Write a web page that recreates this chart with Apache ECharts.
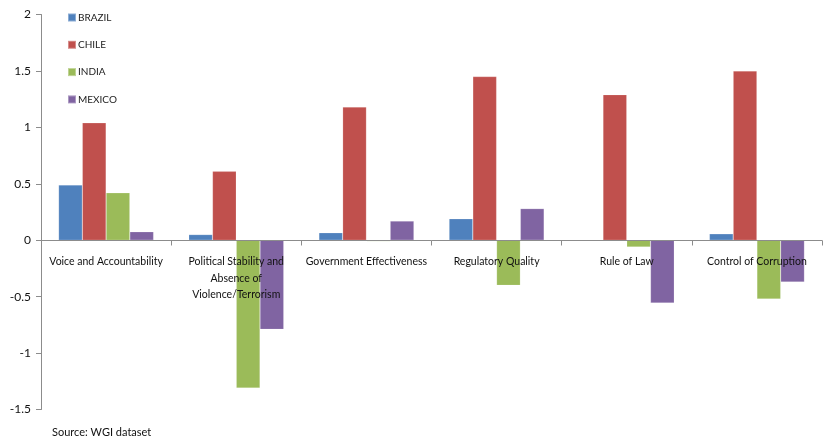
<!DOCTYPE html>
<html>
<head>
<meta charset="utf-8">
<script src="https://cdn.jsdelivr.net/npm/echarts@6/dist/echarts.min.js"></script>
<style>
html,body{margin:0;padding:0;background:#fff;}
#c{width:825px;height:442px;}
</style>
</head>
<body>
<div id="c"></div>
<script>
var categories = ["Voice and Accountability", "Political Stability and\nAbsence of\nViolence/Terrorism", "Government Effectiveness", "Regulatory Quality", "Rule of Law", "Control of Corruption"];
var brazil = [0.49, 0.05, 0.066, 0.19, 0.003, 0.057];
var chile  = [1.04, 0.61, 1.18, 1.45, 1.29, 1.50];
var india  = [0.42, -1.31, -0.01, -0.40, -0.06, -0.52];
var mexico = [0.075, -0.79, 0.17, 0.28, -0.556, -0.37];
var yTicks = [-1.5, -1, -0.5, 0, 0.5, 1, 1.5, 2];

var FONT = "Lato, 'Liberation Sans', sans-serif";
var chart = echarts.init(document.getElementById('c'));
function s(name, data, color) {
  return {
    name: name, type: 'bar', data: data,
    barGap: '0%', barCategoryGap: '27%',
    itemStyle: {color: color, borderColor: 'rgba(255,255,255,0.35)', borderWidth: 0.5}
  };
}
chart.setOption({
  animation: false,
  textStyle: {fontFamily: FONT},
  grid: {left: 41, right: 3, top: 14.5, bottom: 32.5, containLabel: false, outerBoundsMode: 'none'},
  legend: {
    orient: 'vertical', left: 62, top: 6,
    itemWidth: 8, itemHeight: 8, itemGap: 14.3,
    icon: 'rect',
    textStyle: {fontFamily: FONT, fontSize: 10, color: '#222', padding: [0,0,0,-3], lineHeight: 13},
    data: ['BRAZIL', 'CHILE', 'INDIA', 'MEXICO']
  },
  xAxis: {
    type: 'category', data: categories, z: 5,
    position: 'bottom', offset: -169,
    axisLine: {onZero: false, lineStyle: {color: '#8c8c8c', width: 1}},
    axisTick: {show: true, length: 5, lineStyle: {color: '#8c8c8c'}},
    axisLabel: {interval: 0, margin: 13, color: '#111', fontFamily: FONT, fontSize: 10.5, lineHeight: 16.5}
  },
  yAxis: {
    type: 'value', min: -1.5, max: 2, interval: 0.5,
    splitLine: {show: false},
    axisLine: {show: true, lineStyle: {color: '#8c8c8c'}},
    axisTick: {show: true, length: 5, lineStyle: {color: '#8c8c8c'}},
    axisLabel: {color: '#111', fontFamily: FONT, fontSize: 12, margin: 10,
      formatter: function (v) { return yTicks.indexOf(v) >= 0 ? String(v) : ''; }}
  },
  series: [
    s('BRAZIL', brazil, '#4F81BD'),
    s('CHILE', chile, '#C0504D'),
    s('INDIA', india, '#9BBB59'),
    s('MEXICO', mexico, '#8064A2')
  ],
  graphic: [{
    type: 'text', left: 52, top: 427,
    style: {text: 'Source: WGI dataset', fontFamily: FONT, fontSize: 11, fill: '#111'}
  }]
});
</script>
</body>
</html>
